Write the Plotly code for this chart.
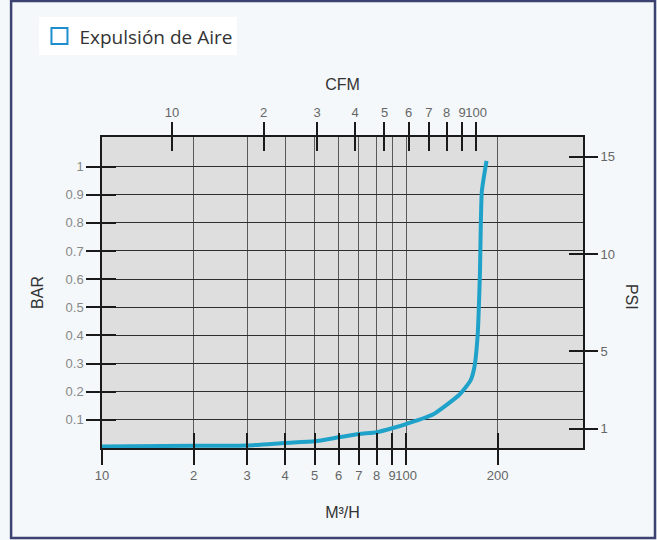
import math
import plotly.graph_objects as go

# ---- data ----
flow_m3h = [10, 20, 30, 40, 50, 60, 70, 80, 90, 100, 123, 150, 163, 168, 172, 175, 177.5, 184]
pressure_bar = [0.005, 0.008, 0.009, 0.018, 0.024, 0.038, 0.05, 0.056, 0.07, 0.085,
                0.12, 0.19, 0.24, 0.29, 0.40, 0.62, 0.91, 1.02]

m3h_tickvals = [10, 20, 30, 40, 50, 60, 70, 80, 90, 100, 200]
m3h_ticktext = ["10", "2", "3", "4", "5", "6", "7", "8", "9", "100", "200"]
cfm_tickvals = [10, 20, 30, 40, 50, 60, 70, 80, 90, 100]
cfm_ticktext = ["10", "2", "3", "4", "5", "6", "7", "8", "9", "100"]
bar_tickvals = [0.1, 0.2, 0.3, 0.4, 0.5, 0.6, 0.7, 0.8, 0.9, 1.0]
bar_ticktext = ["0.1", "0.2", "0.3", "0.4", "0.5", "0.6", "0.7", "0.8", "0.9", "1"]
psi_tickvals = [1, 5, 10, 15]
psi_ticktext = ["1", "5", "10", "15"]

series_name = "Expulsión de Aire"

# ---- scales ----
M3H_TO_CFM = 0.5886
BAR_TO_PSI = 14.5038
x_min, x_max = 10, 382
y_max = 1.105
x_range = [math.log10(x_min), math.log10(x_max)]
cfm_range = [math.log10(x_min * M3H_TO_CFM), math.log10(x_max * M3H_TO_CFM)]
psi_range = [0, y_max * BAR_TO_PSI]

TICK_COLOR = "#1a1a1a"
LABEL_FONT = dict(family="Liberation Sans, Arial, sans-serif", size=13, color="#666")
TITLE_FONT = dict(family="Liberation Sans, Arial, sans-serif", size=16, color="#333")
LINE_COLOR = "#1ea2c9"

fig = go.Figure()

fig.add_trace(go.Scatter(
    x=flow_m3h, y=pressure_bar, mode="lines", name=series_name,
    legendgroup="g", showlegend=False,
    line=dict(color=LINE_COLOR, width=4, shape="spline", smoothing=0.5),
))
# legend swatch
fig.add_trace(go.Scatter(
    x=[None], y=[None], mode="markers", name=series_name, legendgroup="g",
    marker=dict(symbol="square-open", size=20, color="#1e8dcc", line=dict(width=2, color="#1e8dcc")),
))
# helper traces so the overlay axes are drawn
for xa, ya in [("x2", "y"), ("x3", "y"), ("x4", "y"), ("x", "y2"), ("x", "y3"), ("x", "y4")]:
    fig.add_trace(go.Scatter(x=[None], y=[None], xaxis=xa, yaxis=ya, showlegend=False,
                             hoverinfo="skip", mode="markers"))

common_tick = dict(tickwidth=2, tickcolor=TICK_COLOR, tickangle=0)

fig.update_layout(
    width=657, height=540, autosize=False,
    margin=dict(l=102, r=74, t=137, b=92),
    paper_bgcolor="#f4f8fa",
    plot_bgcolor="#dedede",
    showlegend=True,
    legend=dict(x=-0.13, y=1.385, xanchor="left", yanchor="top",
                bgcolor="white", font=dict(family="Open Sans, sans-serif", size=19, color="#333"),
                itemsizing="trace"),
    xaxis=dict(type="log", range=x_range, tickvals=m3h_tickvals, ticktext=m3h_ticktext,
               ticks="outside", ticklen=15, **common_tick,
               showline=True, linecolor=TICK_COLOR, linewidth=1.5, mirror=True,
               showgrid=True, gridcolor="#5a5a5a", gridwidth=1,
               tickfont=LABEL_FONT,
               title=dict(text="M³/H", font=TITLE_FONT, standoff=24)),
    xaxis3=dict(type="log", range=x_range, overlaying="x", anchor="y", side="bottom",
                tickvals=m3h_tickvals, ticks="inside", ticklen=15, **common_tick,
                showticklabels=False, showgrid=False, showline=False),
    xaxis2=dict(type="log", range=cfm_range, overlaying="x", anchor="y", side="top",
                tickvals=cfm_tickvals, ticktext=cfm_ticktext,
                ticks="outside", ticklen=14, **common_tick,
                showgrid=False, showline=False, tickfont=LABEL_FONT,
                title=dict(text="CFM", font=TITLE_FONT, standoff=10)),
    xaxis4=dict(type="log", range=cfm_range, overlaying="x", anchor="y", side="top",
                tickvals=cfm_tickvals, ticks="inside", ticklen=14, **common_tick,
                showticklabels=False, showgrid=False, showline=False),
    yaxis=dict(range=[0, y_max], tickvals=bar_tickvals, ticktext=bar_ticktext,
               ticks="outside", ticklen=14, **common_tick,
               showline=True, linecolor=TICK_COLOR, linewidth=1.5, mirror=True,
               showgrid=True, gridcolor="#2e2e2e", gridwidth=1.3, zeroline=False,
               tickfont=dict(LABEL_FONT, color="#888"),
               title=dict(text="BAR", font=TITLE_FONT, standoff=18)),
    yaxis3=dict(range=[0, y_max], overlaying="y", anchor="x", side="left",
                tickvals=bar_tickvals, ticks="inside", ticklen=14, **common_tick,
                showticklabels=False, showgrid=False, showline=False, zeroline=False),
    yaxis2=dict(range=psi_range, overlaying="y", anchor="x", side="right",
                tickvals=psi_tickvals, ticktext=psi_ticktext,
                ticks="outside", ticklen=14, **common_tick,
                showgrid=False, showline=False, zeroline=False, tickfont=LABEL_FONT),
    yaxis4=dict(range=psi_range, overlaying="y", anchor="x", side="right",
                tickvals=psi_tickvals, ticks="inside", ticklen=14, **common_tick,
                showticklabels=False, showgrid=False, showline=False, zeroline=False),
    annotations=[dict(text="PSI", xref="paper", yref="paper", x=1.102, y=0.4855,
                      xanchor="center", yanchor="middle",
                      showarrow=False, textangle=90, font=TITLE_FONT)],
    shapes=[dict(type="rect", xref="paper", yref="paper",
                 x0=-0.189, x1=1.1497, y0=-0.289, y1=1.437,
                 line=dict(color="#3c4272", width=2.5), layer="below")],
)

fig.write_html("out.html", config={"displayModeBar": False},
               post_script="document.body.style.margin='0px';")
